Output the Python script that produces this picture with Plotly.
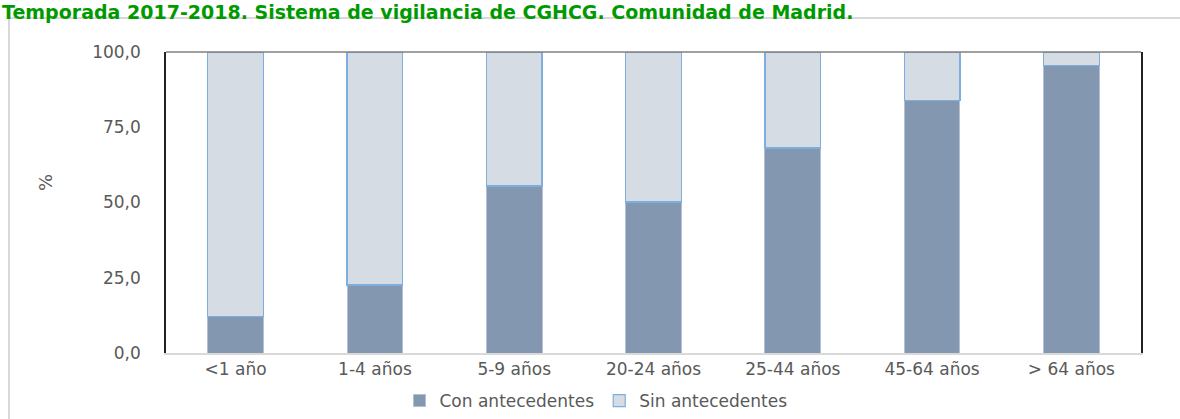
import plotly.graph_objects as go

categories = ["<1 año", "1-4 años", "5-9 años", "20-24 años", "25-44 años", "45-64 años", "> 64 años"]
con_antecedentes = [12.0, 22.6, 55.5, 50.2, 68.1, 83.9, 95.4]
sin_antecedentes = [round(100 - v, 1) for v in con_antecedentes]
y_ticks = [0, 25, 50, 75, 100]
title_text = "Temporada 2017-2018. Sistema de vigilancia de CGHCG. Comunidad de Madrid."

W, H = 1180, 419
L, R, T, B = 166, 39, 52, 66
pw, ph = W - L - R, H - T - B

def px(x):
    return (x - L) / pw

def py(y):
    return 1 - (y - T) / ph

FONT = "DejaVu Sans"
GRAY = "#595959"

fig = go.Figure()
fig.add_trace(go.Bar(
    x=categories, y=con_antecedentes, name="Con antecedentes",
    marker=dict(color="#8497B0", line=dict(color="#B4C0D0", width=1)),
))
fig.add_trace(go.Bar(
    x=categories, y=sin_antecedentes, name="Sin antecedentes",
    marker=dict(color="#D6DCE4", line=dict(color="#7EAEE0", width=1.2)),
))

fig.update_layout(
    width=W, height=H,
    margin=dict(l=L, r=R, t=T, b=B, autoexpand=False),
    barmode="stack", bargap=0.6,
    separators=",.",
    paper_bgcolor="white", plot_bgcolor="white",
    font=dict(family=FONT, size=17, color=GRAY),
    showlegend=True,
    legend=dict(orientation="h", x=px(596), xanchor="center", y=py(401), yanchor="middle",
                traceorder="normal", font=dict(family=FONT, size=17, color=GRAY),
                itemwidth=30, bgcolor="rgba(0,0,0,0)"),
    xaxis=dict(showgrid=False, showline=True, linecolor="#D9D9D9", linewidth=1.5,
               ticks="", tickfont=dict(family=FONT, size=17, color=GRAY)),
    yaxis=dict(range=[0, 100], tickvals=y_ticks, tickformat=".1f", showgrid=False,
               showline=True, linecolor="#222222", linewidth=1.5, mirror=True,
               ticks="", ticklabelstandoff=20, zeroline=False,
               tickfont=dict(family=FONT, size=17, color=GRAY)),
)

# top border line of plot area (gray)
fig.add_shape(type="line", xref="paper", yref="paper", x0=0, x1=1, y0=1, y1=1,
              line=dict(color="#808080", width=1.5))
# chart area border (light gray)
fig.add_shape(type="rect", xref="paper", yref="paper",
              x0=px(9), x1=px(1200), y0=py(440), y1=py(18),
              line=dict(color="#D9D9D9", width=2), fillcolor="rgba(0,0,0,0)", layer="below")

# y-axis title
fig.add_annotation(text="%", xref="paper", yref="paper", x=px(45), y=py(183),
                   showarrow=False, textangle=-90, xanchor="center", yanchor="middle",
                   font=dict(family=FONT, size=18, color=GRAY))
# title at the very top
fig.add_annotation(text="<b>" + title_text + "</b>", xref="paper", yref="paper",
                   x=px(0), y=py(12), xanchor="left", yanchor="middle", showarrow=False,
                   font=dict(family=FONT, size=19, color="#009A00"))

fig.write_html("out.html", config={"displayModeBar": False},
               post_script="document.body.style.margin='0';")
